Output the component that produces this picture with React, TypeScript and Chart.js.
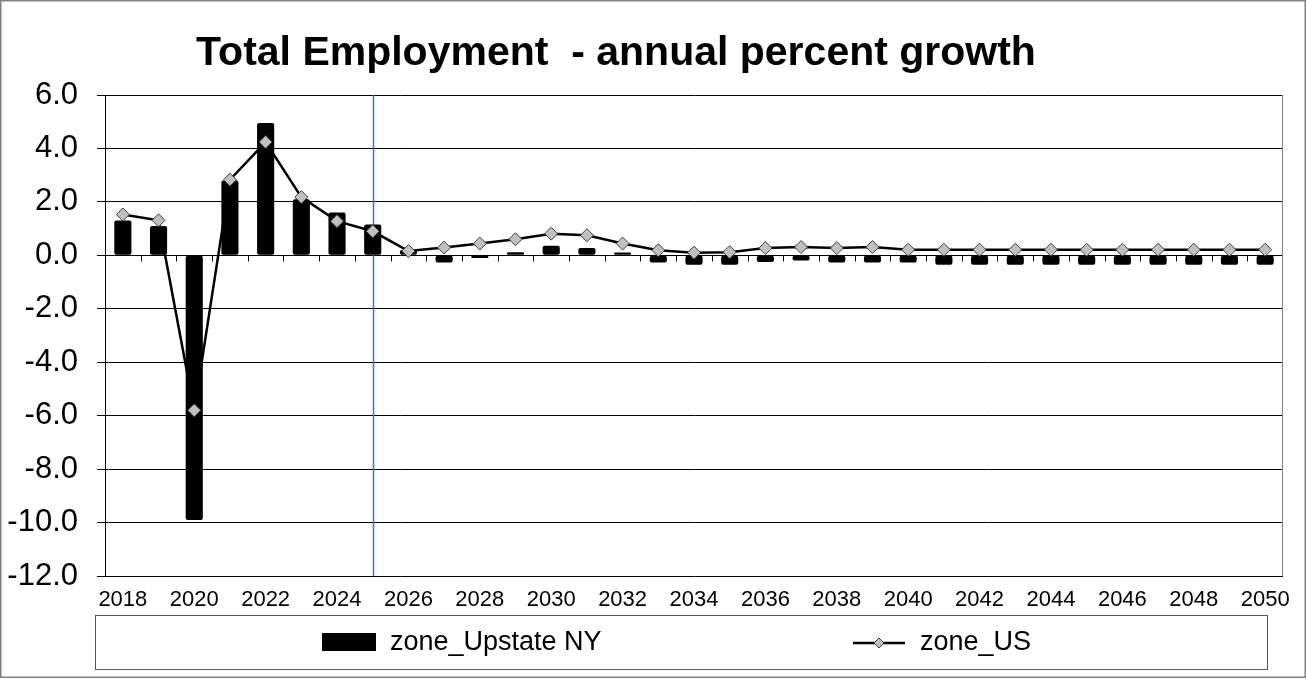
import React, { useEffect, useRef } from 'react';
import { Chart, registerables } from 'chart.js';

Chart.register(...registerables);

const FONT = '"Liberation Sans", Arial, sans-serif';

const TITLE = 'Total Employment  - annual percent growth';
const SERIES_NAMES = ['zone_Upstate NY', 'zone_US'];
const FORECAST_START = '2025';

const years: string[] = [
  '2018', '2019', '2020', '2021', '2022', '2023', '2024', '2025', '2026', '2027', '2028',
  '2029', '2030', '2031', '2032', '2033', '2034', '2035', '2036', '2037', '2038', '2039',
  '2040', '2041', '2042', '2043', '2044', '2045', '2046', '2047', '2048', '2049', '2050',
];

const upstateNY: number[] = [
  1.3, 1.1, -9.9, 2.8, 4.95, 2.1, 1.6, 1.15, 0.2, -0.27, -0.1,
  0.12, 0.36, 0.27, 0.11, -0.27, -0.35, -0.35, -0.25, -0.19, -0.27, -0.27,
  -0.27, -0.35, -0.35, -0.35, -0.35, -0.35, -0.35, -0.35, -0.35, -0.35, -0.35,
];

const us: number[] = [
  1.53, 1.31, -5.8, 2.83, 4.24, 2.18, 1.28, 0.9, 0.16, 0.29, 0.44,
  0.6, 0.81, 0.75, 0.44, 0.19, 0.1, 0.12, 0.27, 0.31, 0.27, 0.31,
  0.21, 0.21, 0.21, 0.21, 0.21, 0.21, 0.21, 0.21, 0.21, 0.21, 0.21,
];

const Y_MIN = -12;
const Y_MAX = 6;
const Y_STEP = 2;

const decorPlugin = {
  id: 'decor',
  beforeDraw(chart: any) {
    const { ctx, width, height } = chart;
    ctx.save();
    ctx.fillStyle = '#ffffff';
    ctx.fillRect(0, 0, width, height);
    ctx.restore();
  },
  beforeDatasetsDraw(chart: any) {
    const { ctx, chartArea, scales } = chart;
    const x = scales.x;
    const y = scales.y;
    ctx.save();
    // forecast divider
    const bx = Math.round(x.getPixelForValue(years.indexOf(FORECAST_START))) + 0.5;
    ctx.strokeStyle = '#4472c4';
    ctx.lineWidth = 1.5;
    ctx.beginPath();
    ctx.moveTo(bx, chartArea.top);
    ctx.lineTo(bx, chartArea.bottom);
    ctx.stroke();
    // category axis at zero with tick marks at boundaries
    const y0 = Math.round(y.getPixelForValue(0)) + 0.5;
    ctx.strokeStyle = '#000000';
    ctx.lineWidth = 1;
    ctx.beginPath();
    for (let i = 1; i < years.length; i++) {
      const tx = Math.round((x.getPixelForValue(i - 1) + x.getPixelForValue(i)) / 2) + 0.5;
      ctx.moveTo(tx, y0);
      ctx.lineTo(tx, y0 + 6);
    }
    ctx.stroke();
    // plot area right border
    const rx = Math.round(chartArea.right) - 0.5;
    ctx.strokeStyle = '#808080';
    ctx.beginPath();
    ctx.moveTo(rx, chartArea.top);
    ctx.lineTo(rx, chartArea.bottom);
    ctx.stroke();
    ctx.restore();
  },
  afterDraw(chart: any) {
    const { ctx, width } = chart;
    ctx.save();
    // title
    ctx.fillStyle = '#000000';
    ctx.font = `bold 41px ${FONT}`;
    ctx.textAlign = 'center';
    ctx.textBaseline = 'alphabetic';
    ctx.fillText(TITLE, 616, 65);

    // legend box
    ctx.strokeStyle = '#555555';
    ctx.lineWidth = 1;
    ctx.strokeRect(95.5, 615.5, 1172, 54);
    ctx.fillStyle = '#000000';
    ctx.fillRect(322, 633, 54, 18);
    ctx.font = `27px ${FONT}`;
    ctx.textAlign = 'left';
    ctx.textBaseline = 'middle';
    ctx.fillText(SERIES_NAMES[0], 390, 643);
    ctx.strokeStyle = '#000000';
    ctx.lineWidth = 2.5;
    ctx.beginPath();
    ctx.moveTo(853, 643);
    ctx.lineTo(905, 643);
    ctx.stroke();
    ctx.beginPath();
    ctx.moveTo(879 - 5, 643);
    ctx.lineTo(879, 643 - 5);
    ctx.lineTo(879 + 5, 643);
    ctx.lineTo(879, 643 + 5);
    ctx.closePath();
    ctx.fillStyle = '#c0c0c0';
    ctx.fill();
    ctx.lineWidth = 1;
    ctx.strokeStyle = '#404040';
    ctx.stroke();
    ctx.fillStyle = '#000000';
    ctx.fillText(SERIES_NAMES[1], 920, 643);

    // outer border
    ctx.strokeStyle = '#808080';
    ctx.lineWidth = 1.5;
    ctx.strokeRect(0.75, 0.75, width - 1.5, 676.5);
    ctx.restore();
  },
};

export default function App() {
  const canvasRef = useRef<HTMLCanvasElement | null>(null);

  useEffect(() => {
    if (!canvasRef.current) return;
    Chart.defaults.font.family = FONT;
    const chart = new Chart(canvasRef.current, {
      type: 'bar',
      data: {
        labels: years,
        datasets: [
          {
            type: 'line',
            label: SERIES_NAMES[1],
            data: us,
            borderColor: '#000000',
            borderWidth: 2.5,
            pointStyle: 'rectRot',
            pointRadius: 6.5,
            pointBackgroundColor: '#c0c0c0',
            pointBorderColor: '#404040',
            pointBorderWidth: 1,
            tension: 0,
            order: 0,
          } as any,
          {
            type: 'bar',
            label: SERIES_NAMES[0],
            data: upstateNY,
            backgroundColor: '#000000',
            barPercentage: 0.48,
            categoryPercentage: 1,
            borderRadius: 2,
            borderSkipped: false,
            order: 1,
          } as any,
        ],
      },
      options: {
        responsive: false,
        animation: false,
        devicePixelRatio: 1,
        layout: { padding: { top: 95, right: 23, bottom: 0, left: 0 } },
        plugins: {
          legend: { display: false },
          title: { display: false },
          tooltip: { enabled: false },
        },
        scales: {
          x: {
            grid: { display: false },
            border: { display: false },
            ticks: {
              autoSkip: false,
              maxRotation: 0,
              minRotation: 0,
              color: '#000000',
              font: { size: 22, family: FONT },
              padding: 3,
              callback: (_v: any, i: number) => (i % 2 === 0 ? years[i] : ''),
            },
            afterFit: (s: any) => {
              s.height = 103;
            },
          },
          y: {
            min: Y_MIN,
            max: Y_MAX,
            ticks: {
              stepSize: Y_STEP,
              color: '#000000',
              font: { size: 31, family: FONT },
              padding: 19,
              callback: (v: any) => Number(v).toFixed(1),
            },
            grid: { color: '#000000', tickLength: 8, drawTicks: true, lineWidth: 1 },
            border: { color: '#000000', width: 1 },
            afterFit: (s: any) => {
              s.width = 105;
            },
          },
        },
      } as any,
      plugins: [decorPlugin],
    });
    return () => chart.destroy();
  }, []);

  return (
    <div style={{ position: 'absolute', left: 0, top: 0, width: 1306, height: 679 }}>
      <canvas ref={canvasRef} width={1306} height={679} style={{ display: 'block' }} />
    </div>
  );
}
